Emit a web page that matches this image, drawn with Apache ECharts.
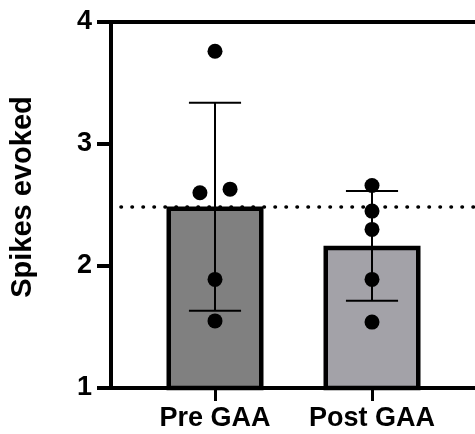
<!DOCTYPE html>
<html>
<head>
<meta charset="utf-8">
<script src="https://cdn.jsdelivr.net/npm/echarts@6/dist/echarts.min.js"></script>
<style>html,body{margin:0;padding:0;background:#fff}#c{width:475px;height:434px}</style>
</head>
<body>
<div id="c"></div>
<script>
// ---- data ----
const categories = ['Pre GAA', 'Post GAA'];
const meanValues = [2.488, 2.166];
const sdLow = [1.634, 1.716];
const sdHigh = [3.339, 2.615];
const preDots = [3.76, 2.60, 2.63, 1.89, 1.55];
const postDots = [2.66, 2.45, 2.30, 1.89, 1.54];
const preJitter = [0, -0.096, 0.096, 0, 0];
const postJitter = [0, 0, 0, 0, 0];
const yTicks = [1, 2, 3, 4];
const barColors = ['#808080', '#a3a2a8'];

// ---- build ----
const FONT = 'Liberation Sans, Arial, sans-serif';
const xMin = 0.3376, xMax = 2.656;
const barData = categories.map((c, i) => ({
  value: [i + 1, meanValues[i]],
  itemStyle: { color: barColors[i] }
}));
const errData = categories.map((c, i) => [i + 1, sdLow[i], sdHigh[i]]);
const dotData = [];
preDots.forEach((v, j) => dotData.push([1 + preJitter[j], v]));
postDots.forEach((v, j) => dotData.push([2 + postJitter[j], v]));

const chart = echarts.init(document.getElementById('c'), null, { renderer: 'canvas' });
chart.setOption({
  animation: false,
  backgroundColor: '#fff',
  grid: { left: 111, top: 22, right: 0, bottom: 46, containLabel: false },
  xAxis: [{
    type: 'value', min: xMin, max: xMax,
    axisLine: { show: true, lineStyle: { color: '#000', width: 4 } },
    axisTick: { show: true, customValues: [1, 2], length: 13, lineStyle: { color: '#000', width: 3 } },
    axisLabel: {
      show: true, customValues: [1, 2], margin: 17,
      formatter: v => categories[Math.round(v) - 1] || '',
      color: '#000', fontSize: 27, fontWeight: 'bold', fontFamily: FONT
    },
    splitLine: { show: false }
  }, {
    type: 'value', position: 'top', min: xMin, max: xMax,
    axisLine: { show: true, lineStyle: { color: '#000', width: 4 } },
    axisTick: { show: false }, axisLabel: { show: false }, splitLine: { show: false }
  }],
  yAxis: {
    type: 'value', min: yTicks[0], max: yTicks[yTicks.length - 1], interval: 1,
    name: 'Spikes evoked', nameLocation: 'middle', nameGap: 74,
    nameTextStyle: { color: '#000', fontSize: 29, fontWeight: 'bold', fontFamily: FONT, padding: [0, 0, 0, 16] },
    axisLine: { show: true, lineStyle: { color: '#000', width: 4 } },
    axisTick: { show: true, length: 14, lineStyle: { color: '#000', width: 4 } },
    axisLabel: { margin: 19, color: '#000', fontSize: 27, fontWeight: 'bold', fontFamily: FONT },
    splitLine: { show: false }
  },
  series: [{
    type: 'bar', xAxisIndex: 0, barWidth: 97, data: barData,
    itemStyle: { borderColor: '#000', borderWidth: 4.5 },
    z: 2,
    markLine: {
      silent: true, symbol: 'none', label: { show: false },
      lineStyle: { color: '#000', width: 3.5, type: [0.5, 10.5], cap: 'round' },
      data: [[{ coord: [0.401, meanValues[0]] }, { coord: [xMax, meanValues[0]] }]]
    }
  }, {
    type: 'custom', xAxisIndex: 0, data: errData, z: 4,
    renderItem: function (params, api) {
      const x = api.value(0);
      const lo = api.coord([x, api.value(1)]);
      const hi = api.coord([x, api.value(2)]);
      const capL = api.coord([x - 0.166, 0])[0];
      const capR = api.coord([x + 0.166, 0])[0];
      const st = { stroke: '#000', lineWidth: 2 };
      return {
        type: 'group', children: [
          { type: 'line', shape: { x1: lo[0], y1: lo[1], x2: hi[0], y2: hi[1] }, style: st },
          { type: 'line', shape: { x1: capL, y1: hi[1], x2: capR, y2: hi[1] }, style: st },
          { type: 'line', shape: { x1: capL, y1: lo[1], x2: capR, y2: lo[1] }, style: st }
        ]
      };
    }
  }, {
    type: 'scatter', xAxisIndex: 0, data: dotData, symbolSize: 15, z: 5,
    itemStyle: { color: '#000', opacity: 1 }
  }]
});
</script>
</body>
</html>
